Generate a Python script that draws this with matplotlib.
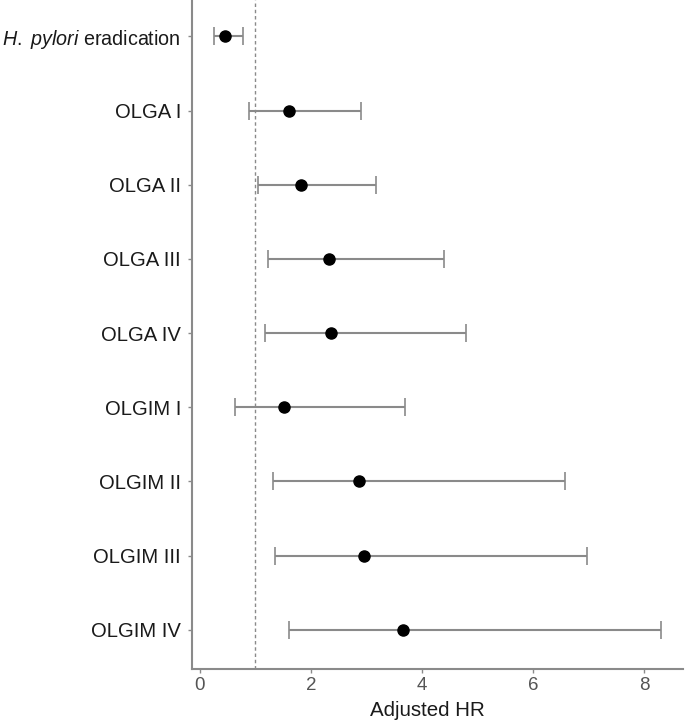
import matplotlib
matplotlib.use("Agg")
import matplotlib.pyplot as plt

plt.rcParams['font.family'] = ['Liberation Sans', 'DejaVu Sans']
plt.rcParams['mathtext.fontset'] = 'custom'
plt.rcParams['mathtext.it'] = 'Liberation Sans:italic'
plt.rcParams['mathtext.rm'] = 'Liberation Sans'

labels = [r'$\mathit{H.}$ $\mathit{pylori}$ eradication', 'OLGA I', 'OLGA II', 'OLGA III', 'OLGA IV',
          'OLGIM I', 'OLGIM II', 'OLGIM III', 'OLGIM IV']
hr = [0.45, 1.61, 1.83, 2.32, 2.37, 1.52, 2.87, 2.95, 3.65]
ci_low = [0.25, 0.88, 1.04, 1.22, 1.18, 0.63, 1.31, 1.35, 1.61]
ci_high = [0.78, 2.91, 3.18, 4.40, 4.80, 3.70, 6.57, 6.97, 8.31]
xticks = [0, 2, 4, 6, 8]

fig = plt.figure(figsize=(6.85, 7.25), dpi=100)
ax = fig.add_axes([192/685, 1 - 669/725, (683-192)/685, 669/725])

ypos = list(range(len(labels)))
err = [[h - l for h, l in zip(hr, ci_low)], [u - h for h, u in zip(hr, ci_high)]]
ax.errorbar(hr, ypos, xerr=err, fmt='none', ecolor='#8a8a8a', elinewidth=1.5,
            capsize=6.5, capthick=1.2, zorder=2)
ax.plot(hr, ypos, 'o', color='black', markersize=8, zorder=3)
ax.axvline(1.0, color='#8a8a8a', linestyle=(0, (2.5, 2)), linewidth=1.0, zorder=1)

ax.set_xlim(-0.14, 8.7)
ax.set_ylim(8.53, -0.49)
ax.set_yticks(ypos)
ax.set_yticklabels(labels, fontsize=14.6, color='#1a1a1a')
ax.get_yticklabels()[0].set_fontsize(14.2)
ax.set_xticks(xticks)
ax.set_xticklabels([str(t) for t in xticks], fontsize=13.5, color='#555555')
ax.set_xlabel('Adjusted HR', fontsize=14.8, color='#1a1a1a')
ax.xaxis.set_label_coords(0.48, -0.048, transform=ax.transAxes)
ax.xaxis.label.set_verticalalignment('top')

for s in ['top', 'right']:
    ax.spines[s].set_visible(False)
for s in ['left', 'bottom']:
    ax.spines[s].set_color('#8a8a8a')
    ax.spines[s].set_linewidth(1.5)
ax.tick_params(axis='both', colors='#8a8a8a', length=3, width=1.0)
ax.tick_params(axis='y', labelcolor='#1a1a1a', pad=5)
ax.tick_params(axis='x', labelcolor='#555555', pad=3)

fig.savefig('out.png', dpi=100)
